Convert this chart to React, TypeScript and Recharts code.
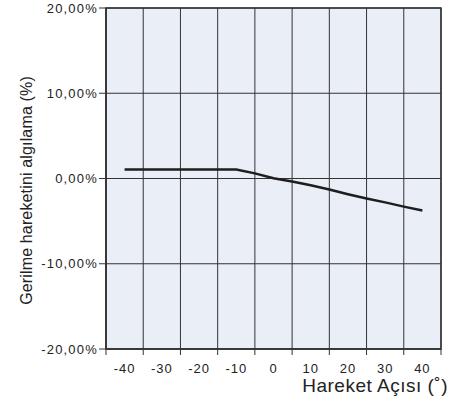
import React from "react";
import { LineChart, Line, XAxis, YAxis, CartesianGrid, Label, ReferenceArea } from "recharts";

const angles = [-40, -35, -30, -25, -20, -15, -10, -5, 0, 5, 10, 15, 20, 25, 30, 35, 40];
const detection = [1.05, 1.05, 1.05, 1.05, 1.05, 1.05, 1.05, 0.6, 0.02, -0.35, -0.8, -1.3, -1.85, -2.35, -2.8, -3.3, -3.75];
const gridTicks = [-45, -35, -25, -15, -5, 5, 15, 25, 35, 45];
const labelTicks = [-40, -30, -20, -10, 0, 10, 20, 30, 40];
const yTicks = [-20, -10, 0, 10, 20];
const xTitle = "Hareket Açısı (˚)";
const yTitle = "Gerilme hareketini algılama (%)";

const data = angles.map((a, i) => ({ angle: a, value: detection[i] }));

const fmtPct = (v: number) => v.toFixed(2).replace(".", ",") + "%";

const FONT = "'Liberation Sans', Arial, Helvetica, sans-serif";
const INK = "#222";

const NoTick = () => <g />;

export default function App() {
  return (
    <div style={{ position: "absolute", left: 0, top: 0, width: 469, height: 405, background: "#fff" }}>
      <LineChart width={469} height={405} data={data} margin={{ top: 8, right: 28, left: 0, bottom: 0 }}>
        <CartesianGrid stroke="#333" strokeWidth={1} fill="#E9EEF7" fillOpacity={1} />
        <XAxis
          type="number"
          dataKey="angle"
          domain={[-45, 45]}
          allowDataOverflow
          ticks={gridTicks}
          tick={NoTick}
          tickSize={6}
          tickLine={{ stroke: "#333" }}
          axisLine={{ stroke: "#333", strokeWidth: 1.5 }}
          height={1}
          interval={0}
        />
        <XAxis
          xAxisId="lab"
          type="number"
          dataKey="angle"
          domain={[-45, 45]}
          allowDataOverflow
          ticks={labelTicks}
          interval={0}
          tickLine={false}
          axisLine={false}
          height={55}
          tick={{ fill: INK, fontSize: 13, fontFamily: FONT, letterSpacing: 1 }}
          tickMargin={8}
        >
          <Label
            content={(props: any) => {
              const vb = props.viewBox || {};
              return (
                <text
                  x={vb.x + vb.width + 7}
                  y={392}
                  textAnchor="end"
                  fill={INK}
                  fontSize={19}
                  letterSpacing={0.5}
                  fontFamily={FONT}
                >
                  {xTitle}
                </text>
              );
            }}
          />
        </XAxis>
        <YAxis
          type="number"
          domain={[-20, 20]}
          ticks={yTicks}
          interval={0}
          width={106}
          tickSize={7}
          tickMargin={1}
          tickFormatter={fmtPct}
          tickLine={{ stroke: "#333" }}
          axisLine={{ stroke: "#333", strokeWidth: 1.5 }}
          tick={{ fill: INK, fontSize: 13, fontFamily: FONT, letterSpacing: 1.2 }}
        >
          <Label
            content={(props: any) => {
              const vb = props.viewBox || {};
              const cx = 26;
              const cy = vb.y + vb.height / 2 + 12;
              return (
                <text
                  x={cx}
                  y={cy}
                  transform={`rotate(-90 ${cx} ${cy})`}
                  textAnchor="middle"
                  dominantBaseline="central"
                  fill={INK}
                  fontSize={16}
                  letterSpacing={0.15}
                  fontFamily={FONT}
                >
                  {yTitle}
                </text>
              );
            }}
          />
        </YAxis>
        <ReferenceArea x1={-45} x2={45} y1={-20} y2={20} fill="none" fillOpacity={0} stroke="#333" strokeWidth={1.5} />
        <Line
          type="linear"
          dataKey="value"
          stroke="#1e1e1e"
          strokeWidth={2.5}
          dot={false}
          isAnimationActive={false}
        />
      </LineChart>
    </div>
  );
}
